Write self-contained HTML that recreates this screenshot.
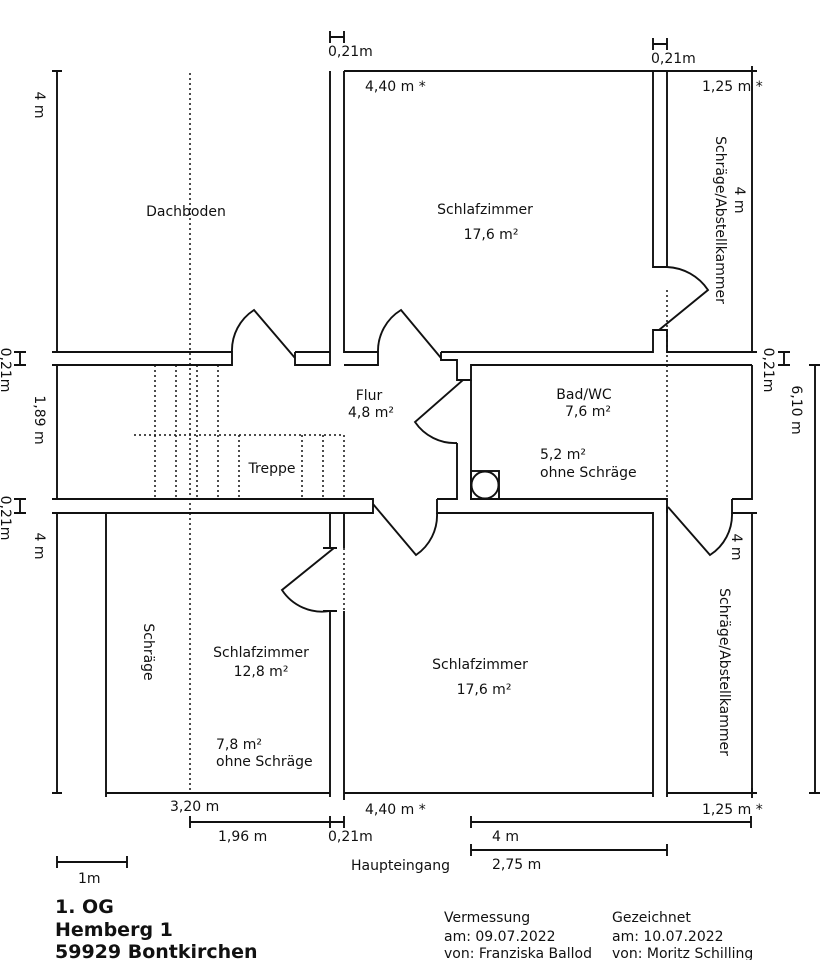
<!DOCTYPE html>
<html><head><meta charset="utf-8"><style>
html,body{margin:0;padding:0;background:#fff;}
svg{display:block;}
text{font-family:"DejaVu Sans","Liberation Sans",sans-serif;font-size:14px;fill:#111;}
.b{font-weight:bold;font-size:19px;}
</style></head><body>
<svg width="820" height="960" viewBox="0 0 820 960" xmlns="http://www.w3.org/2000/svg">
<g stroke="#111" stroke-width="1.9" fill="none">
<path d="M57 71V352M52 71H62M57 365V499M57 513V793M52 793H62"/>
<path d="M52 352H232V365H52M295 352V365H330V71M295 352H330"/>
<path d="M344 71V352H378V365H344M344 71H757M752 66V352"/>
<path d="M441 352H653V330H667V352H752M441 352V360H457V380H471V365H752"/>
<path d="M653 71V267H667V71"/>
<path d="M52 499H373V513H52M330 513V548M323 548H337M330 611V797M323 611H337M344 513V548M344 611V800M344 513H373"/>
<path d="M437 499H457V443M471 443V499H667V513M437 499V513H653V797M471 380V443"/>
<path d="M667 507V797M732 499H752V365M732 499V513H752V793M752 513H757M752 352H757"/>
<path d="M106 513V797M106 793H330M344 793H653M667 793H757M752 788V798"/>
<rect x="471" y="471" width="28" height="28"/>
<circle cx="485" cy="485" r="13.5"/>
<path d="M295 358L254 310A48 48 0 0 0 232 352"/>
<path d="M441 358L401 310A48 48 0 0 0 378 352"/>
<path d="M463 380L415 422A48 48 0 0 0 457 443"/>
<path d="M373 504L416 555A48 48 0 0 0 437 513"/>
<path d="M334 548L282 590A48 48 0 0 0 330 611"/>
<path d="M667 267A52 52 0 0 1 708 290L659 330"/>
<path d="M668 507L710 555A48 48 0 0 0 732 513"/>
<path d="M14 352H26M20 352V365M14 365H26M14 499H26M20 499V513M14 513H26"/>
<path d="M778 352H790M784 352V365M778 365H790M809 365H820M815 365V793M809 793H820"/>
<path d="M330 31V43M330 37H344M344 31V43M653 38V50M653 44H667M667 38V50"/>
<path d="M190 822H344M190 816V828M330 816V828M344 816V828"/>
<path d="M471 822H751M471 816V828M751 816V828M471 850H667M471 844V856M667 844V856"/>
<path d="M57 862H127M57 856V868M127 856V868"/>
</g>
<g stroke="#111" stroke-width="1.5" fill="none" stroke-dasharray="2,3">
<path d="M190 73V793M667 290V507M344 548V611"/>
<path d="M155 365V499M176 365V499M197 365V499M218 365V499M134 435H344M239 435V499M302 435V499M323 435V499M344 435V499"/>
</g>
<text x="186" y="216" text-anchor="middle">Dachboden</text>
<text x="485" y="214" text-anchor="middle">Schlafzimmer</text>
<text x="491" y="239" text-anchor="middle">17,6 m²</text>
<text x="369" y="400" text-anchor="middle">Flur</text>
<text x="371" y="417" text-anchor="middle">4,8 m²</text>
<text x="272" y="473" text-anchor="middle">Treppe</text>
<text x="584" y="399" text-anchor="middle">Bad/WC</text>
<text x="588" y="416" text-anchor="middle">7,6 m²</text>
<text x="540" y="459">5,2 m²</text>
<text x="540" y="477">ohne Schräge</text>
<text x="261" y="657" text-anchor="middle">Schlafzimmer</text>
<text x="261" y="676" text-anchor="middle">12,8 m²</text>
<text x="216" y="749">7,8 m²</text>
<text x="216" y="766">ohne Schräge</text>
<text x="480" y="669" text-anchor="middle">Schlafzimmer</text>
<text x="484" y="694" text-anchor="middle">17,6 m²</text>
<text transform="translate(144,652) rotate(90)" text-anchor="middle">Schräge</text>
<text transform="translate(716,220) rotate(90)" text-anchor="middle">Schräge/Abstellkammer</text>
<text transform="translate(720,672) rotate(90)" text-anchor="middle">Schräge/Abstellkammer</text>
<text transform="translate(735,200) rotate(90)" text-anchor="middle">4 m</text>
<text transform="translate(732,547) rotate(90)" text-anchor="middle">4 m</text>
<text transform="translate(35,105) rotate(90)" text-anchor="middle">4 m</text>
<text transform="translate(35,420) rotate(90)" text-anchor="middle">1,89 m</text>
<text transform="translate(35,546) rotate(90)" text-anchor="middle">4 m</text>
<text transform="translate(1,370) rotate(90)" text-anchor="middle">0,21m</text>
<text transform="translate(1,518) rotate(90)" text-anchor="middle">0,21m</text>
<text transform="translate(764,370) rotate(90)" text-anchor="middle">0,21m</text>
<text transform="translate(792,410) rotate(90)" text-anchor="middle">6,10 m</text>
<text x="328" y="56">0,21m</text>
<text x="651" y="63">0,21m</text>
<text x="365" y="91">4,40 m *</text>
<text x="702" y="91">1,25 m *</text>
<text x="170" y="811">3,20 m</text>
<text x="365" y="814">4,40 m *</text>
<text x="702" y="814">1,25 m *</text>
<text x="218" y="841">1,96 m</text>
<text x="328" y="841">0,21m</text>
<text x="492" y="841">4 m</text>
<text x="492" y="869">2,75 m</text>
<text x="351" y="870">Haupteingang</text>
<text x="78" y="883">1m</text>
<text class="b" x="55" y="913">1. OG</text>
<text class="b" x="55" y="936">Hemberg 1</text>
<text class="b" x="55" y="958">59929 Bontkirchen</text>
<text x="444" y="922">Vermessung</text>
<text x="444" y="941">am: 09.07.2022</text>
<text x="444" y="958">von: Franziska Ballod</text>
<text x="612" y="922">Gezeichnet</text>
<text x="612" y="941">am: 10.07.2022</text>
<text x="612" y="958">von: Moritz Schilling</text>
</svg>
</body></html>
